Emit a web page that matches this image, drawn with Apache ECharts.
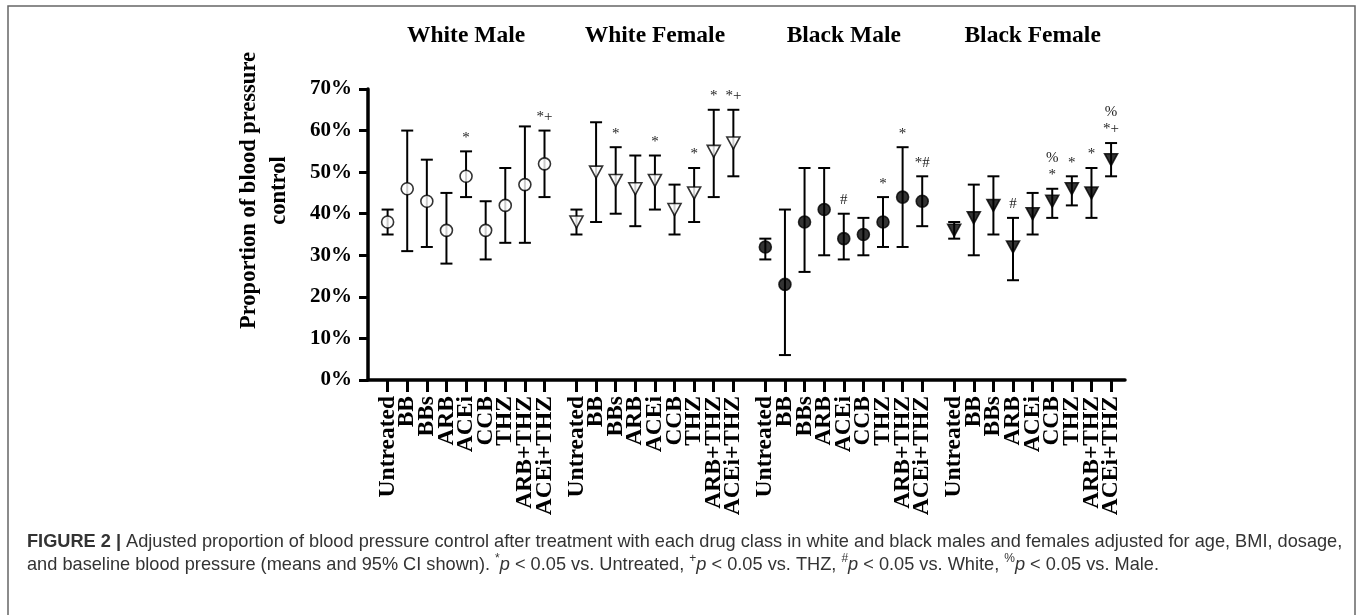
<!DOCTYPE html>
<html>
<head>
<meta charset="utf-8">
<script src="https://cdn.jsdelivr.net/npm/echarts@6/dist/echarts.min.js"></script>
<style>html,body{margin:0;padding:0;background:#fff;}#chart{width:1357px;height:615px;}</style>
</head>
<body>
<div id="chart"></div>
<script>
// ---- data ----
const categories = ['Untreated','BB','BBs','ARB','ACEi','CCB','THZ','ARB+THZ','ACEi+THZ'];
const groups = ['White Male','White Female','Black Male','Black Female'];
const yTicks = [0,10,20,30,40,50,60,70];

const wmMean = [38,46,43,36,49,36,42,47,52];
const wmLow  = [35,31,32,28,44,29,33,33,44];
const wmHigh = [41,60,53,45,55,43,51,61,60];
const wmNote = ['','','','','*','','','','*+'];

const wfMean = [38,50,48,46,48,41,45,55,57];
const wfLow  = [35,38,40,37,41,35,38,44,49];
const wfHigh = [41,62,56,54,54,47,51,65,65];
const wfNote = ['','','*','','*','','*','*','*+'];

const bmMean = [32,23,38,41,34,35,38,44,43];
const bmLow  = [29,6,26,30,29,30,32,32,37];
const bmHigh = [34,41,51,51,40,39,44,56,49];
const bmNote = ['','','','','#','','*','*','*#'];

const bfMean = [36,39,42,32,40,43,46,45,53];
const bfLow  = [34,30,35,24,35,39,42,39,49];
const bfHigh = [38,47,49,39,45,46,49,51,57];
const bfNote = ['','','','#','','%\n*','*','*','%\n*+'];

// ---- layout helpers ----
const GROUP_PITCH = 9.63;
const xPos = (g, i) => g * GROUP_PITCH + i;
const SERIF = '"Liberation Serif", "Times New Roman", serif';
const SANS = '"Liberation Sans", Arial, sans-serif';

const groupData = [
  {mean: wmMean, low: wmLow, high: wmHigh, note: wmNote, symbol: 'circle', fill: '#fff', rot: 0},
  {mean: wfMean, low: wfLow, high: wfHigh, note: wfNote, symbol: 'triangle', fill: '#fff', rot: 180},
  {mean: bmMean, low: bmLow, high: bmHigh, note: bmNote, symbol: 'circle', fill: '#000', rot: 0},
  {mean: bfMean, low: bfLow, high: bfHigh, note: bfNote, symbol: 'triangle', fill: '#000', rot: 180}
];

const allPos = [];
groups.forEach((_, g) => categories.forEach((_, i) => allPos.push(xPos(g, i))));
// padding entries next to the first/last tick so that ECharts' min/max label overlap check never drops a real label
const labelPos = [allPos[0] - 0.01].concat(allPos, [allPos[allPos.length - 1] + 0.01]);
const groupCenters = groups.map((_, g) => xPos(g, 4));

function findIndex(arr, v) {
  for (let k = 0; k < arr.length; k++) if (Math.abs(arr[k] - v) < 1e-6) return k;
  return -1;
}

function errRender(params, api) {
  const x = api.value(0), lo = api.value(1), hi = api.value(2);
  const a = api.coord([x, lo]), b = api.coord([x, hi]);
  const w = 6, st = {stroke: '#000', lineWidth: 2};
  return {type: 'group', children: [
    {type: 'line', shape: {x1: a[0], y1: a[1], x2: b[0], y2: b[1]}, style: st},
    {type: 'line', shape: {x1: b[0] - w, y1: b[1], x2: b[0] + w, y2: b[1]}, style: st},
    {type: 'line', shape: {x1: a[0] - w, y1: a[1], x2: a[0] + w, y2: a[1]}, style: st}
  ]};
}

const series = [];
groupData.forEach((gd, g) => {
  series.push({
    type: 'custom', renderItem: errRender, z: 2,
    data: gd.mean.map((m, i) => [xPos(g, i), gd.low[i], gd.high[i]]),
    silent: true
  });
  series.push({
    type: 'scatter', z: 5, symbol: gd.symbol, symbolRotate: gd.rot,
    symbolSize: gd.symbol === 'circle' ? 12 : [13, 12],
    itemStyle: {color: gd.fill, borderColor: '#000', borderWidth: 1.6},
    data: gd.mean.map((m, i) => [xPos(g, i), m]),
    silent: true
  });
  const notes = gd.note;
  series.push({
    type: 'custom', z: 6, silent: true,
    data: gd.high.map((h, i) => [xPos(g, i), h]),
    renderItem: function (params, api) {
      const t = notes[params.dataIndex];
      if (!t) return null;
      const p = api.coord([api.value(0), api.value(1)]);
      return {type: 'text', style: {
        text: t, x: p[0], y: p[1] - 5, align: 'center', verticalAlign: 'bottom',
        textAlign: 'center', textVerticalAlign: 'bottom',
        fontFamily: SERIF, fontSize: 15, lineHeight: 17, fill: '#222'
      }};
    }
  });
});

const chart = echarts.init(document.getElementById('chart'));
chart.setOption({
  animation: false,
  backgroundColor: '#fff',
  title: {
    left: 22, top: 525,
    text: '{b|FIGURE 2 |} Adjusted proportion of blood pressure control after treatment with each drug class in white and black males and females adjusted for age, BMI, dosage,\nand baseline blood pressure (means and 95% CI shown). {s|*}{i|p} < 0.05 vs. Untreated, {s|+}{i|p} < 0.05 vs. THZ, {s|#}{i|p} < 0.05 vs. White, {s|%}{i|p} < 0.05 vs. Male.',
    textStyle: {
      fontFamily: SANS, fontSize: 18.2, fontWeight: 'normal', color: '#333', lineHeight: 23,
      rich: {
        b: {fontFamily: SANS, fontSize: 18.2, fontWeight: 'bold', color: '#333', lineHeight: 23},
        i: {fontFamily: SANS, fontSize: 18.2, fontStyle: 'italic', color: '#333', lineHeight: 23},
        s: {fontFamily: SANS, fontSize: 12, color: '#333', lineHeight: 23, verticalAlign: 'top', padding: [0, 0, 7, 0]}
      }
    }
  },
  graphic: [{
    type: 'rect', silent: true,
    shape: {x: 8, y: 6, width: 1347, height: 640},
    style: {fill: 'none', stroke: '#666', lineWidth: 1.5}
  }],
  grid: {left: 368, right: 232, top: 89, bottom: 235, containLabel: false},
  xAxis: [{
    type: 'value', min: -1, max: 37.6, position: 'bottom',
    axisLine: {show: true, onZero: false, lineStyle: {color: '#000', width: 3.5}},
    axisTick: {show: true, customValues: labelPos, length: 12, lineStyle: {color: '#000', width: 3}},
    axisLabel: {
      show: true, customValues: labelPos, rotate: 90, margin: 16, hideOverlap: false,
      fontFamily: SERIF, fontWeight: 'bold', fontSize: 23.5, color: '#000',
      formatter: function (v) { const k = findIndex(allPos, v); return k < 0 ? ' ' : categories[k % categories.length]; }
    },
    splitLine: {show: false}
  }, {
    type: 'value', min: -1, max: 37.6, position: 'top',
    axisLine: {show: false, onZero: false}, axisTick: {show: false}, splitLine: {show: false},
    axisLabel: {
      show: true, customValues: groupCenters, margin: 41, showMinLabel: true, showMaxLabel: true,
      fontFamily: SERIF, fontWeight: 'bold', fontSize: 23.5, color: '#000',
      formatter: function (v) { const k = findIndex(groupCenters, v); return k < 0 ? '' : groups[k]; }
    }
  }],
  yAxis: {
    type: 'value', min: 0, max: 70, interval: 10,
    name: 'Proportion of blood pressure\ncontrol', nameLocation: 'middle', nameGap: 74,
    nameTextStyle: {fontFamily: SERIF, fontWeight: 'bold', fontSize: 22.5, color: '#000', lineHeight: 30, padding: [0, 0, 0, 88]},
    axisLine: {show: true, onZero: false, lineStyle: {color: '#000', width: 3.5}},
    axisTick: {show: true, length: 9, lineStyle: {color: '#000', width: 3}},
    axisLabel: {margin: 16, fontFamily: SERIF, fontWeight: 'bold', fontSize: 21, color: '#000',
      formatter: '{value}%'},
    splitLine: {show: false}
  },
  series: series
});
</script>
</body>
</html>
